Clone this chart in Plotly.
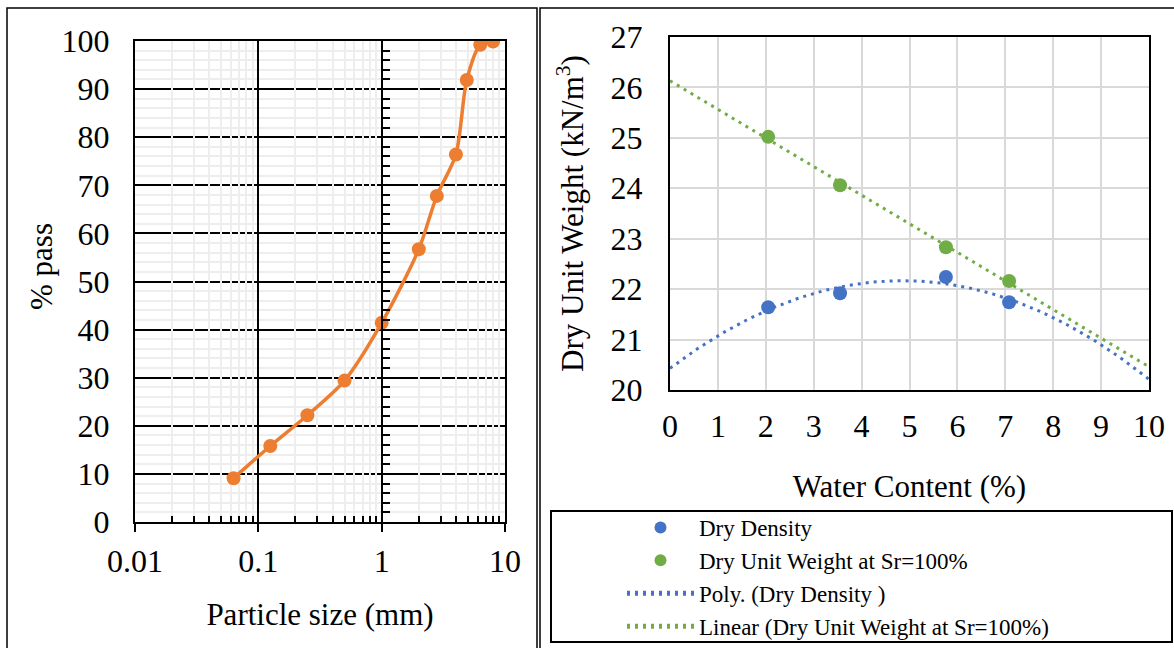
import numpy as np
import plotly.graph_objects as go

# ---------------- data ----------------
# Left chart: particle size distribution
particle_size_mm = [0.063, 0.125, 0.25, 0.5, 1.0, 2.0, 2.8, 4.0, 4.9, 6.3, 8.0]
percent_pass = [9.1, 15.8, 22.2, 29.4, 41.4, 56.7, 67.8, 76.4, 91.9, 99.2, 99.9]

size_tickvals = [0.01, 0.1, 1, 10]
size_ticktext = ["0.01", "0.1", "1", "10"]
size_minor_tickvals = [m * d for d in (0.01, 0.1, 1) for m in range(2, 10)]

# Right chart: compaction data
water_content = [2.05, 3.55, 5.76, 7.08]
dry_density = [21.64, 21.92, 22.24, 21.74]
dry_unit_weight_sr100 = [25.02, 24.06, 22.83, 22.16]

# ---------------- trendlines (fitted from the data, as Excel does) ----------------
wc_line = np.linspace(0, 10, 201)
poly_coef = np.polyfit(water_content, dry_density, 2)
lin_coef = np.polyfit(water_content, dry_unit_weight_sr100, 1)
poly_fit = np.polyval(poly_coef, wc_line)
lin_fit = np.polyval(lin_coef, wc_line)

W, H = 1174, 648
FONT = "Liberation Serif, Times New Roman, serif"
ORANGE = "#ED7D31"
BLUE = "#4472C4"
GREEN = "#70AD47"
MINOR_GRID = "#eeeeee"

fig = go.Figure()

# left chart traces
fig.add_trace(go.Scatter(
    x=particle_size_mm, y=percent_pass, mode="lines+markers",
    line=dict(color=ORANGE, width=3.5, shape="spline", smoothing=0.8),
    marker=dict(color=ORANGE, size=14),
    xaxis="x", yaxis="y", showlegend=False, hoverinfo="x+y"))
# empty traces so the crossing y axis at x=1 and the overlay minor x grid are drawn
fig.add_trace(go.Scatter(x=[None], y=[None], xaxis="x", yaxis="y2",
                         showlegend=False, hoverinfo="skip"))
fig.add_trace(go.Scatter(x=[None], y=[None], xaxis="x2", yaxis="y",
                         showlegend=False, hoverinfo="skip"))

# right chart traces
fig.add_trace(go.Scatter(
    x=water_content, y=dry_density, mode="markers", name="Dry Density",
    marker=dict(color=BLUE, size=14), xaxis="x3", yaxis="y3"))
fig.add_trace(go.Scatter(
    x=water_content, y=dry_unit_weight_sr100, mode="markers",
    name="Dry Unit Weight at Sr=100%",
    marker=dict(color=GREEN, size=14), xaxis="x3", yaxis="y3"))
fig.add_trace(go.Scatter(
    x=wc_line, y=poly_fit, mode="lines", name="Poly. (Dry Density )",
    line=dict(color=BLUE, width=3, dash="3px,5px"), xaxis="x3", yaxis="y3"))
fig.add_trace(go.Scatter(
    x=wc_line, y=lin_fit, mode="lines",
    name="Linear (Dry Unit Weight at Sr=100%)",
    line=dict(color=GREEN, width=3, dash="3px,5px"), xaxis="x3", yaxis="y3"))

tickfont = dict(family=FONT, size=32, color="black")
titlefont = dict(family=FONT, size=31, color="black")

fig.update_layout(
    width=W, height=H,
    margin=dict(l=0, r=0, t=0, b=0, autoexpand=False),
    paper_bgcolor="white", plot_bgcolor="white",
    font=dict(family=FONT, color="black"),
    xaxis=dict(
        domain=[135 / W, 505 / W], anchor="y", type="log", range=[-2, 1],
        tickmode="array", tickvals=size_tickvals, ticktext=size_ticktext,
        ticks="outside", ticklen=8, tickwidth=1.5, tickcolor="black",
        tickfont=tickfont, ticklabelstandoff=2,
        showgrid=True, gridcolor="black", gridwidth=1.5,
        showline=True, linecolor="black", linewidth=2, mirror=True,
        zeroline=False, automargin=False,
        minor=dict(tickmode="array", tickvals=size_minor_tickvals,
                   ticks="inside", ticklen=6, tickwidth=1.5, tickcolor="black",
                   showgrid=False),
        title=dict(text="Particle size (mm)", font=titlefont, standoff=25),
    ),
    # overlay x axis: light minor vertical grid drawn above the black
    # horizontal gridlines (as in the reference)
    xaxis2=dict(
        overlaying="x", anchor="y", type="log", range=[-2, 1],
        tickmode="array", tickvals=size_minor_tickvals, showticklabels=False,
        ticks="", showgrid=True, gridcolor=MINOR_GRID, gridwidth=2,
        showline=False, zeroline=False, automargin=False,
    ),
    yaxis=dict(
        domain=[1 - 522 / H, 1 - 41 / H], anchor="x", range=[0, 100], dtick=10,
        ticks="", tickfont=tickfont, ticklabelstandoff=17,
        showgrid=True, gridcolor="black", gridwidth=1.5,
        showline=True, linecolor="black", linewidth=2, mirror=True,
        zeroline=False, automargin=False,
        minor=dict(dtick=2, showgrid=True, gridcolor=MINOR_GRID, gridwidth=2),
    ),
    yaxis2=dict(
        overlaying="y", anchor="free", position=(135 + 2 * 370 / 3) / W,
        range=[0, 100], dtick=10, showticklabels=False, showgrid=False,
        ticks="inside", ticklen=7, tickwidth=1.5, tickcolor="black",
        showline=True, linecolor="black", linewidth=2, zeroline=False,
        minor=dict(dtick=2, ticks="inside", ticklen=7, tickwidth=1.5,
                   tickcolor="black", showgrid=False),
    ),
    xaxis3=dict(
        domain=[670 / W, 1149 / W], anchor="y3", range=[0, 10], dtick=1,
        ticks="", tickfont=tickfont, ticklabelstandoff=7,
        showgrid=True, gridcolor="#d9d9d9", gridwidth=2,
        showline=True, linecolor="black", linewidth=2, mirror=True,
        zeroline=False, automargin=False,
        title=dict(text="Water Content (%)", font=titlefont, standoff=32),
    ),
    yaxis3=dict(
        domain=[1 - 390 / H, 1 - 37 / H], anchor="x3", range=[20, 27], dtick=1,
        ticks="", tickfont=tickfont, ticklabelstandoff=19,
        showgrid=True, gridcolor="#d9d9d9", gridwidth=2,
        showline=True, linecolor="black", linewidth=2, mirror=True,
        zeroline=False, automargin=False,
        title=dict(text="Dry Unit Weight (kN/m<sup>3</sup>)", font=titlefont,
                   standoff=18),
    ),
    legend=dict(
        x=622 / W, y=1 - 506 / H, xanchor="left", yanchor="top",
        bgcolor="rgba(0,0,0,0)", borderwidth=0,
        font=dict(family=FONT, size=23, color="black"),
        itemwidth=67, tracegroupgap=0, itemsizing="constant",
    ),
    annotations=[
        dict(text="% pass", xref="paper", yref="paper",
             x=42 / W, y=1 - 267 / H, xanchor="center", yanchor="middle",
             textangle=-90, showarrow=False, font=titlefont),
    ],
    shapes=[
        dict(type="rect", xref="paper", yref="paper",
             x0=7 / W, x1=537 / W, y0=-0.05, y1=1 - 8 / H,
             line=dict(color="black", width=1.5)),
        dict(type="rect", xref="paper", yref="paper",
             x0=540 / W, x1=1.05, y0=-0.05, y1=1 - 8 / H,
             line=dict(color="black", width=1.5)),
        dict(type="rect", xref="paper", yref="paper",
             x0=551 / W, x1=1172 / W, y0=1 - 642 / H, y1=1 - 511 / H,
             line=dict(color="black", width=2)),
    ],
)

fig.write_html("out.html")
